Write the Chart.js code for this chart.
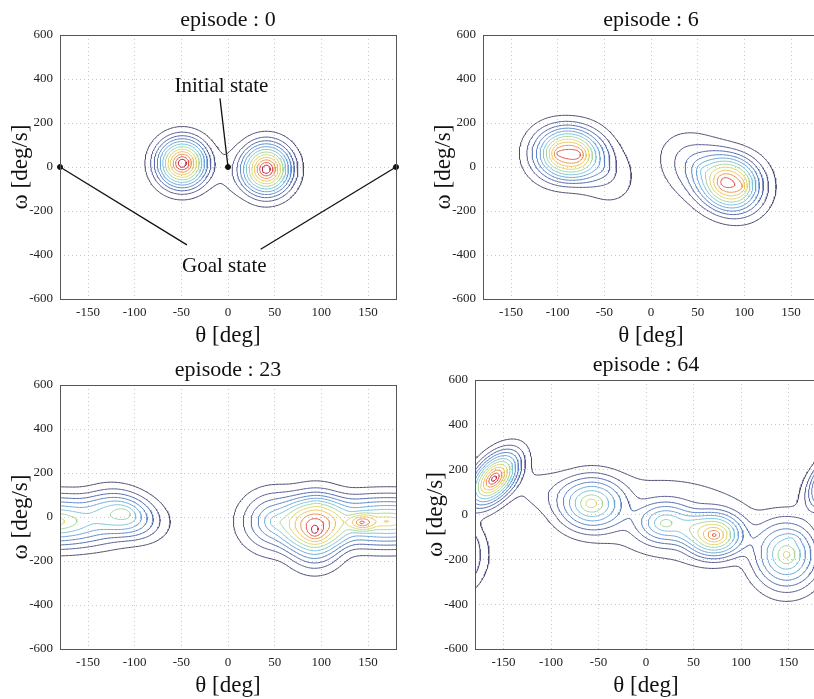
<!DOCTYPE html>
<html>
<head>
<meta charset="utf-8">
<script src="https://cdn.jsdelivr.net/npm/chart.js@4.4.1/dist/chart.umd.min.js"></script>
<style>
  html, body { margin: 0; padding: 0; background: #fff; overflow: hidden; width: 814px; height: 699px; }
  .panel { position: absolute; }
</style>
</head>
<body>
<div class="panel" style="left:0px;top:0px"><canvas id="ep0" width="406" height="350"></canvas></div>
<div class="panel" style="left:423px;top:0px"><canvas id="ep6" width="406" height="350"></canvas></div>
<div class="panel" style="left:0px;top:350px"><canvas id="ep23" width="406" height="350"></canvas></div>
<div class="panel" style="left:415px;top:350px"><canvas id="ep64" width="412" height="350"></canvas></div>
<script>
// contour levels (fraction of peak) and their colours, outermost first
const levels = [0.045, 0.125, 0.205, 0.285, 0.365, 0.445, 0.525, 0.605, 0.685, 0.765, 0.845, 0.925];
const levelColors = ['#4b4a6c', '#56598e', '#4f68aa', '#5a84c4', '#6ea4da', '#7ec4dc',
                     '#a8d69c', '#dcd874', '#eec462', '#ea9854', '#e05a52', '#c02a44'];

const xTicks = [-150, -100, -50, 0, 50, 100, 150];
const yTicks = [-600, -400, -200, 0, 200, 400, 600];

// bumps: [theta, omega, reach theta, reach omega, tilt, height]
const bumpsEp0 = [
  [-49, 17, 36, 150, 0, 1.05],
  [41, -10, 36, 155, 0, 1.05],
  [0, -30, 25, 160, 0, 0.05]
];
const bumpsEp6 = [
  [-100, 62, 40, 160, 0, 0.6],
  [-78, 56, 40, 160, 0, 0.6],
  [-50, -20, 40, 180, -0.2, 0.15],
  [96, -90, 38, 170, 0, 0.5],
  [78, -68, 38, 170, 0, 0.5],
  [55, -15, 50, 190, -0.3, 0.3]
];
const bumpsEp23 = [
  [170, -20, 110, 150, 0, 0.7],
  [93, -67, 40, 190, 0, 0.75],
  [143, -25, 18, 50, 0, 0.35],
  [50, -20, 45, 170, 0, 0.45],
  [95, 60, 40, 120, 0, 0.15],
  [-110, 20, 45, 140, -0.3, 0.42]
];
const bumpsEp64 = [
  [-160, 160, 35, 160, 0.5, 1.0],
  [-58, 50, 47, 160, 0, 0.65],
  [72, -92, 40, 130, 0, 0.8],
  [20, -40, 40, 120, 0, 0.45],
  [148, -180, 45, 200, 0, 0.65],
  [154, -106, 12, 30, 0, 0.05],
  [-110, 110, 40, 130, 0, 0.08],
  [30, -20, 110, 240, -0.15, 0.15]
];

// episode 0 annotations
const initialState = [0, 0];
const goalStates = [[-180, 0], [180, 0]];
const initialLabel = { text: 'Initial state', x: -7, y: 368, tail: [-8.6, 312] };
const goalLabel = { text: 'Goal state', x: -4, y: -450, tails: [[-44, -354], [35, -374]] };

const K = 8;
const softplus = t => t > 30 ? t : Math.log1p(Math.exp(t));
const norm = softplus(K);
function field(bumps, x, y) {
  let v = 0;
  for (const [cx, cy, sx, sy, r, h] of bumps) {
    let dx = x - cx;
    dx = ((dx + 180) % 360 + 360) % 360 - 180;
    const u = dx / sx, w = (y - cy) / sy;
    const q = (u * u - 2 * r * u * w + w * w) / (1 - r * r);
    v += h * softplus(K * (1 - Math.sqrt(q))) / norm;
  }
  return v;
}

function traceContours(vals, nx, ny, xs, ys, L) {
  const segs = [];
  const pts = new Map();
  const val = (i, j) => vals[j * nx + i];
  const edgePoint = (key, i1, j1, i2, j2) => {
    if (!pts.has(key)) {
      const a = val(i1, j1), b = val(i2, j2);
      const t = (L - a) / (b - a);
      pts.set(key, { x: xs[i1] + t * (xs[i2] - xs[i1]), y: ys[j1] + t * (ys[j2] - ys[j1]) });
    }
    return key;
  };
  for (let j = 0; j < ny - 1; j++) {
    for (let i = 0; i < nx - 1; i++) {
      const v0 = val(i, j), v1 = val(i + 1, j), v2 = val(i + 1, j + 1), v3 = val(i, j + 1);
      const c = (v0 > L ? 1 : 0) | (v1 > L ? 2 : 0) | (v2 > L ? 4 : 0) | (v3 > L ? 8 : 0);
      if (c === 0 || c === 15) continue;
      const e = [
        () => edgePoint('h' + i + '_' + j, i, j, i + 1, j),
        () => edgePoint('v' + (i + 1) + '_' + j, i + 1, j, i + 1, j + 1),
        () => edgePoint('h' + i + '_' + (j + 1), i, j + 1, i + 1, j + 1),
        () => edgePoint('v' + i + '_' + j, i, j, i, j + 1)
      ];
      const hi = (v0 + v1 + v2 + v3) / 4 > L;
      const table = {
        1: [[3, 0]], 2: [[0, 1]], 3: [[3, 1]], 4: [[1, 2]],
        5: hi ? [[0, 1], [2, 3]] : [[3, 0], [1, 2]],
        6: [[0, 2]], 7: [[3, 2]], 8: [[2, 3]], 9: [[0, 2]],
        10: hi ? [[3, 0], [1, 2]] : [[0, 1], [2, 3]],
        11: [[1, 2]], 12: [[1, 3]], 13: [[0, 1]], 14: [[3, 0]]
      };
      table[c].forEach(([a, b]) => segs.push([e[a](), e[b]()]));
    }
  }
  const adj = new Map();
  segs.forEach((s, n) => s.forEach(k => {
    if (!adj.has(k)) adj.set(k, []);
    adj.get(k).push(n);
  }));
  const used = new Uint8Array(segs.length);
  const walk = (key) => {
    const out = [];
    while (true) {
      const next = adj.get(key).find(n => !used[n]);
      if (next === undefined) break;
      used[next] = 1;
      const s = segs[next];
      key = s[0] === key ? s[1] : s[0];
      out.push(key);
    }
    return out;
  };
  const lines = [];
  segs.forEach((s, n) => {
    if (used[n]) return;
    used[n] = 1;
    const fwd = walk(s[1]);
    const back = walk(s[0]);
    const keys = back.reverse().concat([s[0], s[1]], fwd);
    lines.push(keys.map(k => pts.get(k)));
  });
  return lines;
}

function contourDatasets(bumps) {
  const xs = [], ys = [];
  for (let x = -180; x <= 180; x += 1.5) xs.push(x);
  for (let y = -600; y <= 600; y += 5) ys.push(y);
  const nx = xs.length, ny = ys.length;
  const vals = new Float64Array(nx * ny);
  for (let j = 0; j < ny; j++)
    for (let i = 0; i < nx; i++) vals[j * nx + i] = field(bumps, xs[i], ys[j]);
  const sets = [];
  levels.forEach((L, k) => {
    traceContours(vals, nx, ny, xs, ys, L).forEach(line => sets.push({
      data: line,
      showLine: true,
      borderColor: levelColors[k],
      borderWidth: 1,
      pointRadius: 0,
      fill: false
    }));
  });
  return sets;
}

const serif = 'Liberation Serif';

const frame = {
  id: 'frame',
  afterDraw(chart) {
    const { ctx, chartArea: a } = chart;
    ctx.save();
    ctx.strokeStyle = '#555';
    ctx.lineWidth = 1;
    ctx.strokeRect(Math.round(a.left) + 0.5, Math.round(a.top) + 0.5,
                   Math.round(a.right - a.left), Math.round(a.bottom - a.top));
    ctx.restore();
  }
};

const labels = {
  id: 'labels',
  afterDatasetsDraw(chart, args, opts) {
    if (!opts.items) return;
    const { ctx, scales: { x, y } } = chart;
    ctx.save();
    ctx.font = '21px "' + serif + '"';
    ctx.fillStyle = '#111';
    ctx.textAlign = 'center';
    ctx.textBaseline = 'middle';
    opts.items.forEach(it => ctx.fillText(it.text, x.getPixelForValue(it.x), y.getPixelForValue(it.y)));
    ctx.restore();
  }
};

function makePanel(id, episode, bumps, titlePad, extra) {
  const datasets = contourDatasets(bumps).concat(extra || []);
  return new Chart(document.getElementById(id), {
    type: 'scatter',
    data: { datasets },
    plugins: [frame, labels],
    options: {
      responsive: false,
      animation: false,
      layout: { padding: { left: 0, right: 10, top: 0, bottom: 0 } },
      plugins: {
        legend: { display: false },
        tooltip: { enabled: false },
        title: {
          display: true,
          text: 'episode : ' + episode,
          fullSize: false,
          color: '#111',
          font: { family: serif, size: 22, weight: 'normal', lineHeight: 1.2 },
          padding: titlePad
        },
        labels: { items: id === 'ep0' ? [initialLabel, goalLabel] : null }
      },
      scales: {
        x: {
          type: 'linear',
          min: -180,
          max: 180,
          afterBuildTicks: s => { s.ticks = xTicks.map(v => ({ value: v })); },
          afterFit: s => { s.height = 51; },
          ticks: { font: { family: serif, size: 13 }, color: '#222', padding: 6 },
          grid: { color: '#c8c8c8', drawTicks: false },
          border: { display: false, dash: [1, 3] },
          title: {
            display: true,
            text: 'θ [deg]',
            color: '#111',
            font: { family: serif, size: 23, lineHeight: 1.1 },
            padding: { top: 0, bottom: 1 }
          }
        },
        y: {
          type: 'linear',
          min: -600,
          max: 600,
          afterBuildTicks: s => { s.ticks = yTicks.map(v => ({ value: v })); },
          afterFit: s => { s.width = 60; },
          ticks: { font: { family: serif, size: 13 }, color: '#222', padding: 7 },
          grid: { color: '#c8c8c8', drawTicks: false },
          border: { display: false, dash: [1, 3] },
          title: {
            display: true,
            text: 'ω [deg/s]',
            color: '#111',
            font: { family: serif, size: 23, lineHeight: 1.1 },
            padding: { top: 8, bottom: 0 }
          }
        }
      }
    }
  });
}

const annotEp0 = [
  {
    data: [{ x: initialLabel.tail[0], y: initialLabel.tail[1] }, { x: initialState[0], y: initialState[1] }],
    showLine: true, borderColor: '#111', borderWidth: 1.3, pointRadius: 0
  },
  ...goalLabel.tails.map((t, n) => ({
    data: [{ x: goalStates[n][0], y: goalStates[n][1] }, { x: t[0], y: t[1] }],
    showLine: true, borderColor: '#111', borderWidth: 1.3, pointRadius: 0, clip: 4
  })),
  {
    data: [initialState, ...goalStates].map(p => ({ x: p[0], y: p[1] })),
    showLine: false, pointRadius: 2.5, backgroundColor: '#111', borderColor: '#111', clip: 6
  }
];

makePanel('ep0', 0, bumpsEp0, { top: 7, bottom: 1.6 }, annotEp0);
makePanel('ep6', 6, bumpsEp6, { top: 7, bottom: 1.6 });
makePanel('ep23', 23, bumpsEp23, { top: 7, bottom: 1.6 });
makePanel('ep64', 64, bumpsEp64, { top: 2, bottom: 1.6 });
</script>
</body>
</html>
